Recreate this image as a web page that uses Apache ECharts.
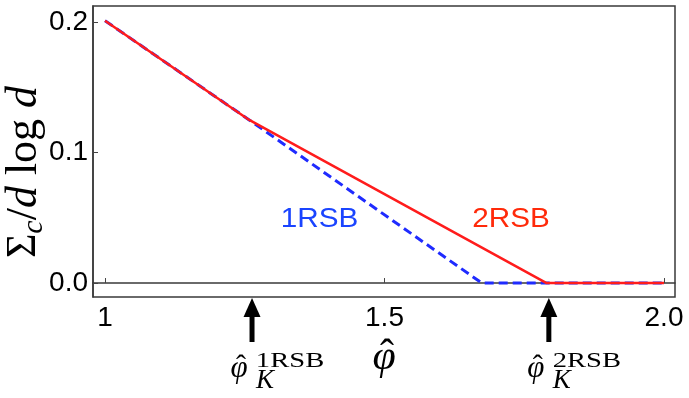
<!DOCTYPE html>
<html>
<head>
<meta charset="utf-8">
<script src="https://cdn.jsdelivr.net/npm/echarts@6/dist/echarts.min.js"></script>
<style>
    html, body { margin: 0; padding: 0; background: #fff; }
    #main { width: 689px; height: 398px; }
</style>
</head>
<body>
<div id="main"></div>
<script>
// data
const blueX = [1, 1.258, 1.674, 2.0];
const blueY = [0.201, 0.125, 0, 0];
const redX = [1, 1.258, 1.79, 2.0];
const redY = [0.201, 0.125, 0, 0];

const xTicks = [1, 1.5, 2.0];
const xTickLabels = ['1', '1.5', '2.0'];
const yTicks = [0, 0.1, 0.2];
const yTickLabels = ['0.0', '0.1', '0.2'];

// positions of the two arrows (phi_K) and their labels
const arrowX = [1.263, 1.794];
const arrowNames = ['1RSB', '2RSB'];

const xMin = 0.9785, xMax = 2.0197;
const yMin = -0.0107, yMax = 0.2123;

const chart = echarts.init(document.getElementById('main'));

function pairs(xs, ys) {
    return xs.map((x, i) => [x, ys[i]]);
}

function tickLabel(ticks, labels) {
    return function (v) {
        for (let i = 0; i < ticks.length; i++) {
            if (Math.abs(ticks[i] - v) < 1e-6) return labels[i];
        }
        return '';
    };
}

const tickFont = "'Liberation Sans Narrow', 'Liberation Sans', Arial, sans-serif";
const serif = "'Liberation Serif', 'DejaVu Serif', serif";
const sans = "'Liberation Sans', Arial, sans-serif";

chart.setOption({
    animation: false,
    grid: {
        left: 93, right: 14, top: 6, bottom: 101,
        show: true, borderColor: '#3a3a3a', borderWidth: 1.5
    },
    xAxis: {
        type: 'value', min: xMin, max: xMax,
        axisLine: { show: true, lineStyle: { color: '#3a3a3a', width: 1.5 } },
        axisTick: { show: true, inside: true, length: 5, customValues: xTicks, lineStyle: { color: '#444' } },
        axisLabel: {
            customValues: xTicks, formatter: tickLabel(xTicks, xTickLabels),
            color: '#000', fontFamily: tickFont, fontSize: 28, margin: 7
        },
        splitLine: { show: false }
    },
    yAxis: {
        type: 'value', min: yMin, max: yMax,
        axisLine: { show: true, lineStyle: { color: '#3a3a3a', width: 1.5 } },
        axisTick: { show: true, inside: true, length: 5, customValues: yTicks, lineStyle: { color: '#444' } },
        axisLabel: {
            customValues: yTicks, formatter: tickLabel(yTicks, yTickLabels),
            color: '#000', fontFamily: tickFont, fontSize: 28, margin: 5
        },
        splitLine: { show: false }
    },
    series: [
        {
            name: '1RSB', type: 'line', data: pairs(blueX, blueY),
            showSymbol: false, silent: true,
            lineStyle: { color: '#1f2bff', width: 3, type: [9, 5] }
        },
        {
            name: '2RSB', type: 'line', data: pairs(redX, redY),
            showSymbol: false, silent: true,
            lineStyle: { color: '#ff1c1c', width: 2.5 }
        }
    ]
});

// annotations: arrows and the LaTeX-like labels
const graphics = [];

// y axis name  Σc / d log d
graphics.push({
    type: 'text', x: 24, y: 172, rotation: Math.PI / 2,
    style: {
        text: '{s|Σ}{c|c}{n|/}{i|d}{n| log }{i|d}',
        textAlign: 'center', textVerticalAlign: 'middle', fill: '#000',
        rich: {
            s: { fontFamily: serif, fontSize: 42, lineHeight: 50 },
            c: { fontFamily: serif, fontStyle: 'italic', fontSize: 30, lineHeight: 30, verticalAlign: 'bottom' },
            n: { fontFamily: serif, fontSize: 44, lineHeight: 50 },
            i: { fontFamily: serif, fontStyle: 'italic', fontSize: 44, lineHeight: 50 }
        }
    }
});

// x axis name  φ̂
graphics.push({
    type: 'text', x: 384, y: 358,
    style: { text: 'φ', fontFamily: serif, fontStyle: 'italic', fontSize: 42, fill: '#000', textAlign: 'center', textVerticalAlign: 'middle' }
});
graphics.push({
    type: 'text', x: 387, y: 357,
    style: { text: 'ˆ', fontFamily: serif, fontSize: 42, fill: '#000', textAlign: 'center', textVerticalAlign: 'middle' }
});

// curve labels
graphics.push({
    type: 'text', x: 319.5, y: 220, scaleX: 1.1,
    style: { text: '1RSB', fontFamily: sans, fontSize: 27, fill: '#1a44ff', textAlign: 'center', textVerticalAlign: 'middle' }
});
graphics.push({
    type: 'text', x: 511, y: 220, scaleX: 1.1,
    style: { text: '2RSB', fontFamily: sans, fontSize: 27, fill: '#ff2a0a', textAlign: 'center', textVerticalAlign: 'middle' }
});

arrowX.forEach((ax, k) => {
    const p = chart.convertToPixel({ gridIndex: 0 }, [ax, yMin]);
    const a = p[0];
    const tip = p[1] + 1;
    graphics.push({
        type: 'polygon',
        shape: { points: [[a, tip], [a - 8.5, tip + 19], [a + 8.5, tip + 19]] },
        style: { fill: '#000' }
    });
    graphics.push({
        type: 'rect',
        shape: { x: a - 2.5, y: tip + 17, width: 5, height: 27 },
        style: { fill: '#000' }
    });
    graphics.push({
        type: 'text', x: a - 13, y: 369,
        style: { text: 'φ', fontFamily: serif, fontStyle: 'italic', fontSize: 31, fill: '#000', textAlign: 'center', textVerticalAlign: 'middle' }
    });
    graphics.push({
        type: 'text', x: a - 11, y: 367,
        style: { text: 'ˆ', fontFamily: serif, fontSize: 30, fill: '#000', textAlign: 'center', textVerticalAlign: 'middle' }
    });
    graphics.push({
        type: 'text', x: a + 38, y: 361, scaleX: 1.3,
        style: { text: arrowNames[k], fontFamily: serif, fontSize: 22, fill: '#000', textAlign: 'center', textVerticalAlign: 'middle' }
    });
    graphics.push({
        type: 'text', x: a + 4, y: 381,
        style: { text: 'K', fontFamily: serif, fontStyle: 'italic', fontSize: 27, fill: '#000', textAlign: 'left', textVerticalAlign: 'middle' }
    });
});

chart.setOption({ graphic: graphics });
</script>
</body>
</html>
